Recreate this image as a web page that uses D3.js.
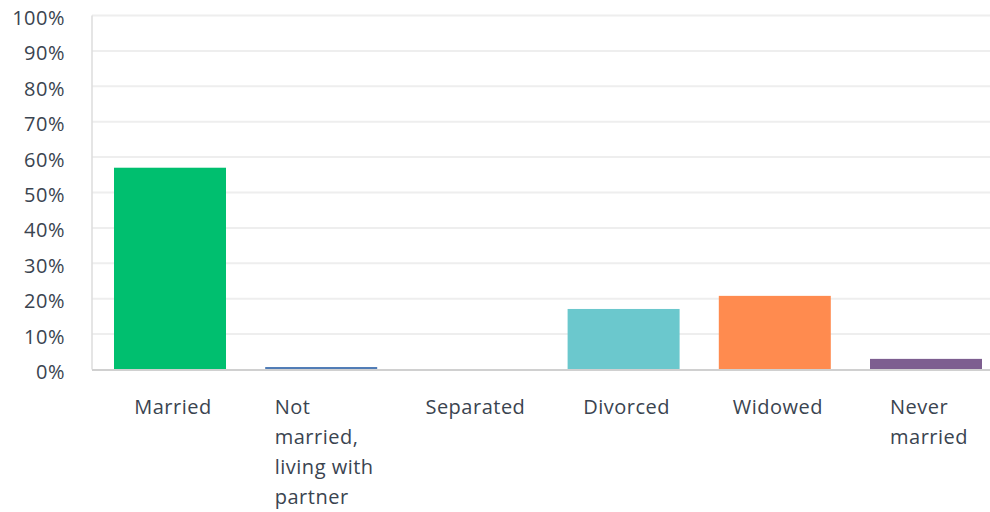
<!DOCTYPE html>
<html>
<head>
<meta charset="utf-8">
<script src="https://cdn.jsdelivr.net/npm/d3@7"></script>
<style>
  html, body { margin: 0; padding: 0; background: #fff; }
  svg { display: block; }
  text { font-family: "Open Sans", sans-serif; fill: #3a4450; letter-spacing: 0.5px; }
</style>
</head>
<body>
<svg id="chart" width="990" height="512"></svg>
<script>
// Marital status share of respondents (percent)
const categories = [
  ["Married"],
  ["Not", "married,", "living with", "partner"],
  ["Separated"],
  ["Divorced"],
  ["Widowed"],
  ["Never", "married"]
];
const values = [57.0, 0.7, 0, 17.1, 20.8, 3.0];
const colors = ["#00bf6f", "#507cb6", "#f05b24", "#6bc8cd", "#ff8b4f", "#7d5e90"];
const yTicks = [0, 10, 20, 30, 40, 50, 60, 70, 80, 90, 100];

const svg = d3.select("#chart");
const plotLeft = 92, plotRight = 1004, plotTop = 15.5, plotBottom = 369.5;

const x = d3.scaleBand()
  .domain(d3.range(categories.length))
  .range([plotLeft, plotRight])
  .paddingInner(0.2593)
  .paddingOuter(0.1455);

const y = d3.scaleLinear().domain([0, 100]).range([plotBottom, plotTop]);

// gridlines
svg.append("g")
  .selectAll("line")
  .data(yTicks.filter(d => d > 0))
  .join("line")
  .attr("x1", plotLeft).attr("x2", 990)
  .attr("y1", d => y(d)).attr("y2", d => y(d))
  .attr("stroke", "#eeeeee").attr("stroke-width", 2);

// y axis labels
const yAxis = svg.append("g")
  .attr("transform", `translate(${plotLeft},0)`)
  .call(d3.axisLeft(y).tickValues(yTicks).tickFormat(d => d + "%").tickSize(0).tickPadding(27));
yAxis.select(".domain").remove();
yAxis.selectAll("text")
  .style("font-family", "'Open Sans', sans-serif")
  .style("font-size", "20px")
  .attr("fill", "#3a4450")
  .attr("dy", "0.45em");

// left axis line
svg.append("line")
  .attr("x1", plotLeft).attr("x2", plotLeft)
  .attr("y1", plotTop).attr("y2", plotBottom)
  .attr("stroke", "#dddddd").attr("stroke-width", 1.5);

// bars
svg.append("g")
  .selectAll("rect")
  .data(values)
  .join("rect")
  .attr("x", (d, i) => x(i))
  .attr("width", x.bandwidth())
  .attr("y", d => y(d))
  .attr("height", d => plotBottom - y(d))
  .attr("fill", (d, i) => colors[i]);

// baseline
svg.append("line")
  .attr("x1", plotLeft).attr("x2", 990)
  .attr("y1", plotBottom + 0.5).attr("y2", plotBottom + 0.5)
  .attr("stroke", "#d0d0d0").attr("stroke-width", 2);

// category labels: left-aligned lines, block centred under each bar
const labels = svg.append("g");
categories.forEach((lines, i) => {
  const t = labels.append("text")
    .style("font-size", "20px");
  lines.forEach((line, j) => {
    t.append("tspan").attr("x", 0).attr("y", 414 + j * 30).text(line);
  });
  const w = t.node().getBBox().width;
  const x0 = x(i) + x.bandwidth() / 2 - w / 2 + 3;
  t.selectAll("tspan").attr("x", x0);
});
</script>
</body>
</html>
